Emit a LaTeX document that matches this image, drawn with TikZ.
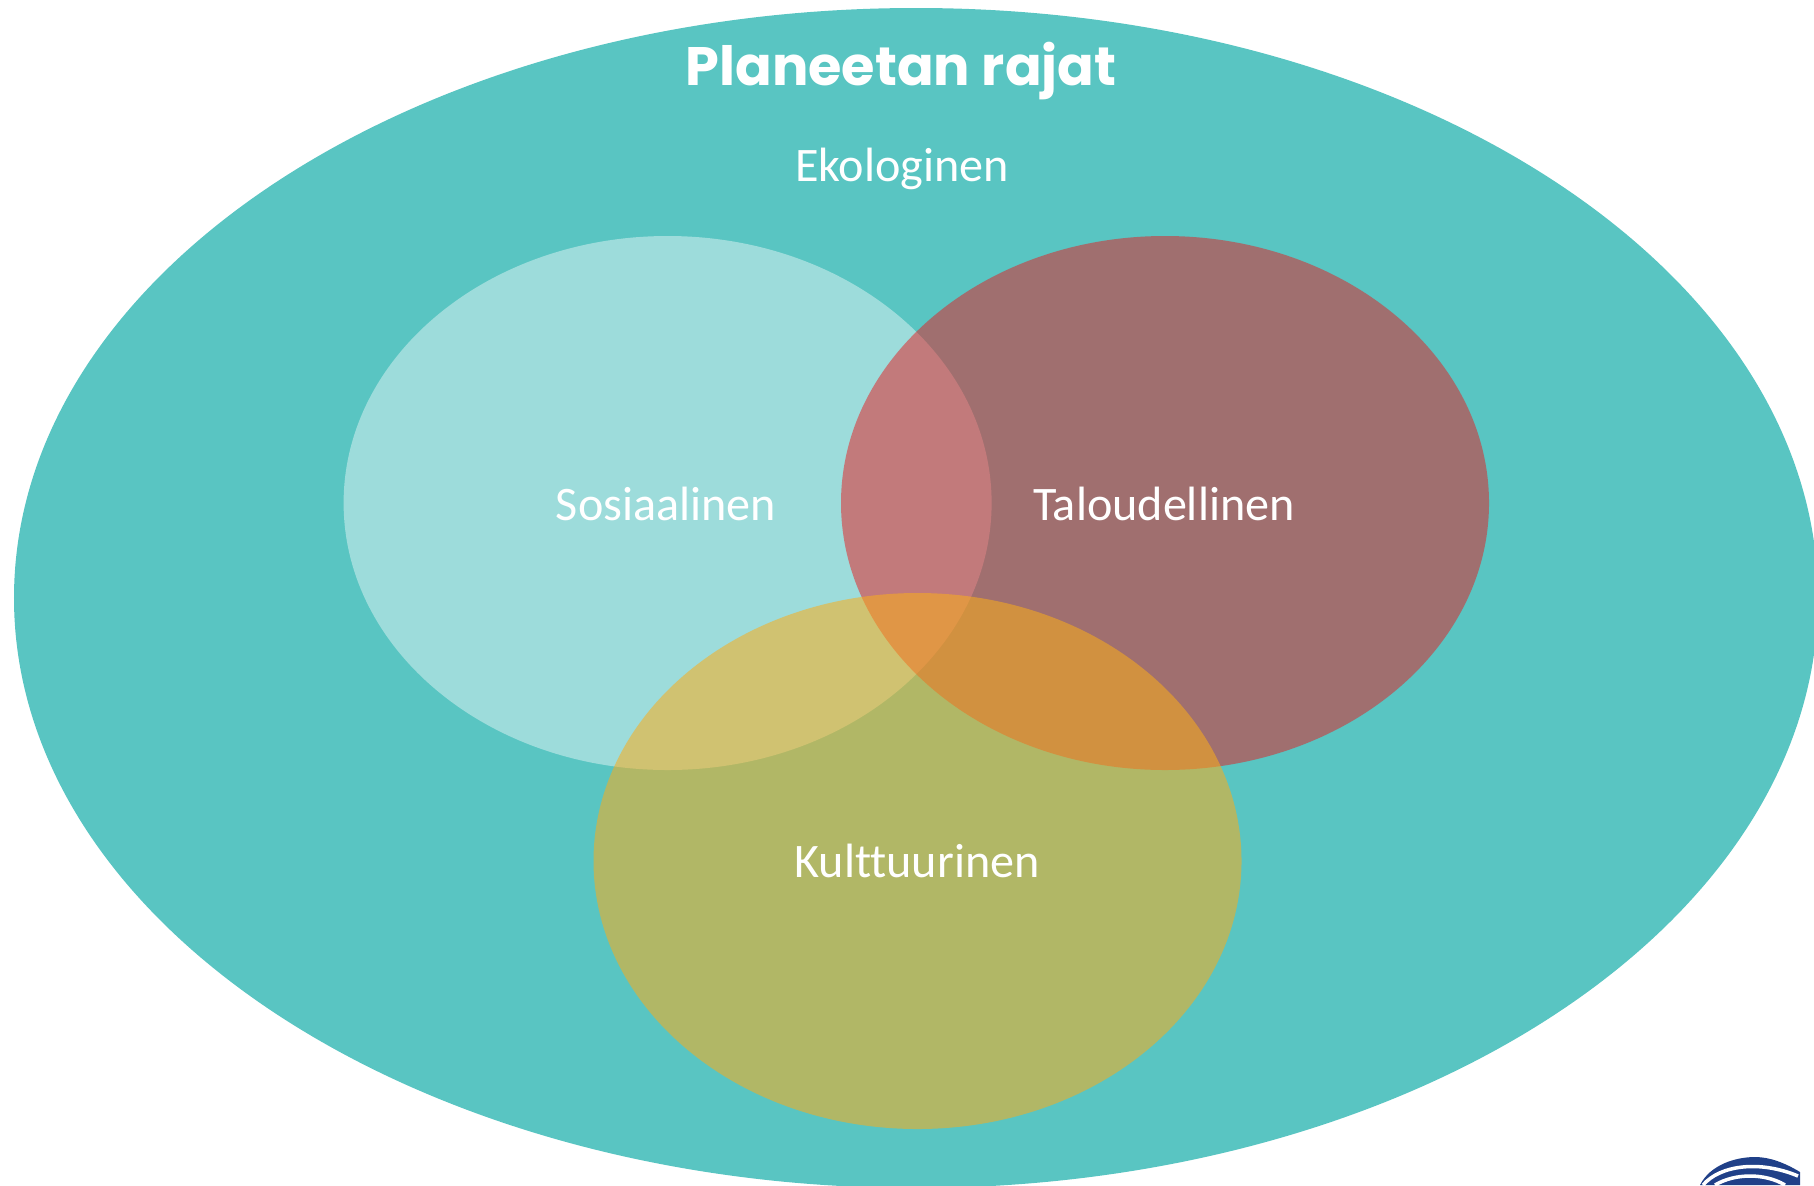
\documentclass[tikz,border=0pt]{standalone}
\usepackage{fontspec}
\setmainfont[Ligatures=NoCommon]{Carlito}
\newfontfamily\titlefont{Poppins}
\definecolor{ekoteal}{RGB}{89,197,194}
\definecolor{talousred}{RGB}{232,26,29}
\definecolor{kulttuuriorange}{RGB}{250,173,27}
\definecolor{logoblue}{RGB}{32,64,136}
\tikzset{
  sphere/.style={fill opacity=#1, draw=none},
  label/.style={text=white, font=\fontsize{13.7}{16}\selectfont, inner sep=0pt}
}

\begin{document}
\begin{tikzpicture}
  \useasboundingbox (0,0) rectangle (18.14,11.85);

  \fill [color=ekoteal] (9.16,5.87) ellipse (9.02cm and 5.90cm);

  \fill [color=white, sphere=0.41] (6.676,6.82) ellipse (3.24cm and 2.67cm);
  \fill [color=talousred, sphere=0.5] (11.65,6.82) ellipse (3.24cm and 2.67cm);
  \fill [color=kulttuuriorange, sphere=0.55] (9.175,3.24) ellipse (3.24cm and 2.68cm);

  \node [text=white, font=\titlefont\bfseries\fontsize{15.4}{18}\selectfont, inner sep=0pt] (title) at (9.01,11.14) {Planeetan rajat};
  \node [label] (ekologinen) at (9.02,10.16) {Ekologinen};
  \node [label] (sosiaalinen) at (6.66,6.81) {Sosiaalinen};
  \node [label] (taloudellinen) at (11.64,6.81) {Taloudellinen};
  \node [label] (kulttuurinen) at (9.17,3.24) {Kulttuurinen};

  % logo
  \begin{scope}
    \clip (16.8,0) rectangle (18.14,0.4);
    \fill [color=logoblue] (17.0,0) .. controls (17.1,0.2) and (17.35,0.28) .. (17.55,0.28) .. controls (17.7,0.28) and (17.85,0.22) .. (18.0,0.13) -- (18.0,0) -- cycle;
    \draw [color=white, line width=1pt] (17.03,0) .. controls (17.2,0.2) and (17.6,0.25) .. (17.98,0.09);
    \draw [color=white, line width=1pt] (17.15,0) .. controls (17.35,0.12) and (17.65,0.12) .. (17.85,0);
  \end{scope}
\end{tikzpicture}
\end{document}
